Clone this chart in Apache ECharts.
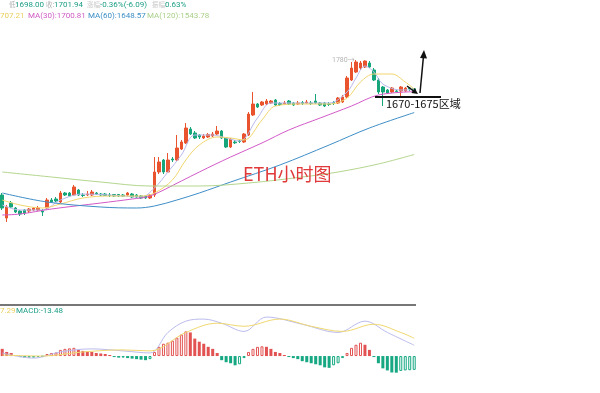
<!DOCTYPE html>
<html><head><meta charset="utf-8">
<script src="https://cdn.jsdelivr.net/npm/echarts@6/dist/echarts.min.js"></script>
<style>html,body{margin:0;padding:0;background:#fff}#c{width:600px;height:393px}</style>
</head><body><div id="c"></div><script>
// ---- candle data (ETH 1h) ----
const opens  = [1442.5,1385,1422.5,1410,1402.5,1405,1402.5,1405,1405,1402.5,
  1410,1430,1432.5,1425,1447.5,1447.5,1442.5,1455,1442.5,1442.5,
  1442.5,1447.5,1445,1445,1442.5,1443.8,1443.8,1442.5,1442.5,1445,
  1442.5,1440,1440,1435,1442.5,1500,1530,1500,1532.5,1530,
  1557.5,1572.5,1607.5,1597.5,1592.5,1585,1587.5,1590,1595,1602.5,
  1585,1562.5,1575,1577.5,1575,1592.5,1642.5,1670,1667.5,1670,
  1672.5,1680,1671.3,1670,1677.5,1672.5,1670,1673.8,1672.5,1672.5,
  1677.5,1672.5,1672.5,1670,1673.8,1672.5,1675,1687.5,1730,1750,
  1760,1762.5,1772.5,1755,1730,1712.5,1705,1700,1702.5,1702.5,
  1702.5,1710,1708];
const closes = [1410,1412.5,1412.5,1400,1395,1397.5,1407.5,1410,1410,1400,
  1430,1425,1427.5,1447.5,1442.5,1440,1462.5,1442.5,1441.3,1445,
  1450,1445,1442.5,1441.3,1441.3,1440,1440,1440,1447.5,1437.5,
  1437.5,1435,1435,1442.5,1500,1525,1500,1530,1530,1560,
  1575,1610,1595,1585,1587.5,1590,1593.8,1595,1602.5,1585,
  1562.5,1582.5,1573,1576.3,1595,1645,1670,1662.5,1675,1677.5,
  1677.5,1667.5,1668.8,1672.5,1670,1667.5,1672.5,1671.3,1675,1671.3,
  1672.5,1667.5,1665,1668.8,1671.3,1685,1687.5,1735,1760,1775,
  1772.5,1777.5,1762.5,1730,1700,1700,1697.5,1710,1701.3,1712.5,
  1710,1708,1701.94];
const lows   = [1405,1375,1410,1397.5,1390,1392.5,1397.5,1402.5,1402.5,1390,
  1407.5,1422.5,1425,1422.5,1440,1437.5,1440,1440,1437.5,1440,
  1440,1442.5,1440,1440,1437.5,1437.5,1437.5,1437.5,1440,1435,
  1435,1432.5,1432.5,1432.5,1437.5,1495,1495,1497.5,1525,1527.5,
  1555,1570,1592.5,1582.5,1582.5,1582.5,1585,1587.5,1592.5,1582.5,
  1560,1560,1570,1572.5,1572.5,1590,1640,1660,1665,1667.5,
  1670,1665,1665,1667.5,1667.5,1665,1667.5,1667.5,1670,1667.5,
  1670,1665,1662.5,1665,1667.5,1670,1672.5,1685,1727.5,1747.5,
  1755,1760,1760,1727.5,1695,1665,1695,1697.5,1700,1687.5,
  1700,1702.5,1698];
const highs  = [1447.5,1417.5,1427.5,1412.5,1405,1407.5,1410,1412.5,1415,1407.5,
  1435,1435,1437.5,1452.5,1450,1450,1467.5,1457.5,1447.5,1452.5,
  1455,1450,1447.5,1447.5,1447.5,1445,1445,1445,1450,1447.5,
  1445,1442.5,1442.5,1445,1537.5,1537.5,1532.5,1547.5,1537.5,1592.5,
  1580,1622.5,1612.5,1602.5,1595,1595,1597.5,1600,1615,1605,
  1587.5,1585,1580,1582.5,1597.5,1650,1700,1672.5,1677.5,1682.5,
  1680,1682.5,1675,1677.5,1680,1675,1677.5,1677.5,1680,1677.5,
  1695,1675,1675,1675,1677.5,1687.5,1692.5,1740,1775,1780,
  1777.5,1778.8,1777.5,1760,1735,1715,1707.5,1712.5,1705,1715,
  1712.5,1712.5,1708.7];

// ---- moving averages (candle index -> value) ----
const ma5Idx   = [0,4,9,13,18,24,31,34,37,40,43,47,50,53,57,60,67,73,77,79,81,83,85,89,92];
const ma5Val   = [1417.5,1405,1405,1430,1445,1442.5,1437.5,1460,1500,1542.5,1592.5,1592.5,1585,1577.5,1635,1672.5,1672.5,1672.5,1700,1735,1765,1750,1720,1705,1706];
const ma10Idx  = [0,4,9,13,18,24,31,34,38,41,44,48,51,54,58,61,67,73,77,80,83,87,90,92];
const ma10Val  = [1430,1417.5,1410,1420,1435,1440,1440,1447.5,1480,1530,1567.5,1587.5,1585,1580,1630,1665,1670,1670,1685,1725,1745,1745,1725,1707.21];
const ma30Idx  = [0,4,11,22,29,33,40,44,51,58,64,71,78,84,92];
const ma30Val  = [1392.5,1395,1407.5,1422.5,1432.5,1440,1477.5,1500,1537.5,1572.5,1605,1635,1665,1692.5,1700.81];
const ma60Idx  = [0,10,22,30,34,39,44,51,62,73,82,92];
const ma60Val  = [1447.5,1425,1412.5,1410,1415,1430,1447.5,1475,1517.5,1567.5,1610,1648.57];
const ma120Idx = [0,11,22,33,44,55,67,75,84,92];
const ma120Val = [1500,1487.5,1475,1465,1465,1472.5,1487.5,1500,1520,1543.78];

// ---- MACD ----
const macdHist = [7,4,3,1,-1,-1.5,-1.5,-1.5,-1,-0.5,
  2,3,3.5,6,7,7.5,8,6,5,4.5,
  4,3,2.5,2,1,-1,-1.5,-1.5,-2,-2.5,
  -3,-3.5,-4,-3,4,9,12,13,15,18,
  21,24,23,17,14,12,9,7,3,-4,
  -6,-7,-9,-8,-2,4,7,9,9.5,9,
  7,4,3,1,-1,-2,-3,-5,-6,-7,
  -8,-9,-11,-11.5,-9,-7,-2,3,8,11,
  13,11,6,-1,-7,-12,-14,-16,-16.2,-14.5,
  -14,-13.8,-13.48];
const difIdx = [0,7,13,20,27,33,37,41,45,49,54,59,67,75,81,86,92];
const difVal = [3,-2,4,7,5,3,23,34,36,32,24,38,31,23,34,23,10.55];
const deaIdx = [0,9,18,27,33,41,48,54,62,69,76,83,89,92];
const deaVal = [1,0,4,6,5,23,32,29,36,29,24,31,23,17.29];

const N = opens.length;
const cats = Array.from({length:N},(_,i)=>String(i));
const kData = opens.map((o,i)=>[o, closes[i], lows[i], highs[i]]);
function sparse(idx, val){ const a = new Array(N).fill(null); idx.forEach((k,j)=>{a[k]=val[j];}); return a; }

const UP='#e9542f', DOWN='#17a67b', BUP='#e25252', BDOWN='#16a882';
const histData = macdHist.map((v,i)=>{
  const prev = i>0 ? macdHist[i-1] : null;
  let hollow;
  if (v>=0) hollow = prev!==null && v>=prev; else hollow = prev!==null && v>=prev;
  const col = v>=0 ? BUP : BDOWN;
  return {value:v, itemStyle: hollow ? {color:'#ffffff', borderColor:col, borderWidth:1} : {color:col, borderColor:col, borderWidth:0}};
});

function maLine(name, idx, val, color){
  return {name, type:'line', xAxisIndex:0, yAxisIndex:0, data:sparse(idx,val), connectNulls:true, smooth:0.35,
    symbol:'none', lineStyle:{width:1, color}, z:3, silent:true};
}
function macdLine(name, idx, val, color){
  return {name, type:'line', xAxisIndex:1, yAxisIndex:1, data:sparse(idx,val), connectNulls:true, smooth:0.35,
    symbol:'none', lineStyle:{width:1, color}, z:3, silent:true};
}

const LAT='Roboto, "Noto Sans CJK SC", sans-serif', CJK='"Noto Sans CJK SC", sans-serif';
function t(text, x, y, fill, size, family, extra){
  return Object.assign({type:'text', x, y, silent:true, z:100,
    style:{text, fill, fontSize:size, fontFamily:family||LAT, align:'left', verticalAlign:'middle'}}, extra||{});
}

const chart = echarts.init(document.getElementById('c'), null, {renderer:'canvas'});
chart.setOption({
  animation:false,
  backgroundColor:'#ffffff',
  grid:[
    {left:-2.05, width:418.5, top:30, height:260},
    {left:-2.05, width:418.5, top:315, height:78}
  ],
  xAxis:[
    {type:'category', data:cats, gridIndex:0, show:false, boundaryGap:true},
    {type:'category', data:cats, gridIndex:1, show:false, boundaryGap:true}
  ],
  yAxis:[
    {type:'value', gridIndex:0, min:1205, max:1855, show:false, splitLine:{show:false}},
    {type:'value', gridIndex:1, min:-36, max:40, show:false, splitLine:{show:false}}
  ],
  series:[
    {type:'candlestick', xAxisIndex:0, yAxisIndex:0, data:kData, barWidth:3,
      itemStyle:{color:UP, color0:DOWN, borderColor:UP, borderColor0:DOWN, borderWidth:1}, z:2, silent:true},
    maLine('MA5', ma5Idx, ma5Val, '#b9b9ec'),
    maLine('MA10', ma10Idx, ma10Val, '#f1d66e'),
    maLine('MA30', ma30Idx, ma30Val, '#d35ac8'),
    maLine('MA60', ma60Idx, ma60Val, '#3f8ec7'),
    maLine('MA120', ma120Idx, ma120Val, '#b4d68e'),
    {type:'bar', xAxisIndex:1, yAxisIndex:1, data:histData, barWidth:3, silent:true, z:2},
    macdLine('DIF', difIdx, difVal, '#bcbcee'),
    macdLine('DEA', deaIdx, deaVal, '#f0d870')
  ],
  graphic:[
    // header line 1
    t('低:', 9, 5, '#b0b0b0', 6.5, CJK),
    t('1698.00', 15, 5, '#1b9e86', 8),
    t('收:', 46, 5, '#b0b0b0', 6.5, CJK),
    t('1701.94', 54, 5, '#1b9e86', 8),
    t('涨幅:', 87, 5, '#c8c8c8', 6.5, CJK),
    t('-0.36%(-6.09)', 100, 5, '#1b9e86', 8),
    t('振幅:', 152, 5, '#c8c8c8', 6.5, CJK),
    t('0.63%', 165, 5, '#1b9e86', 8),
    // header line 2
    t('707.21', 0, 16, '#e9cf5c', 8),
    t('MA(30):1700.81', 28, 16, '#cf5cc3', 8),
    t('MA(60):1648.57', 88, 16, '#3d8fc4', 8),
    t('MA(120):1543.78', 147, 16, '#aad08a', 8),
    // separator
    {type:'line', silent:true, z:100, shape:{x1:0, y1:305, x2:416, y2:305}, style:{stroke:'#4a4a4a', lineWidth:1.5}},
    // MACD label
    t('7.29', 0, 311, '#e9cf5c', 8),
    t('MACD:-13.48', 16, 311, '#1b9e86', 8),
    // high label
    t('1780→', 332, 60, '#b4b4b4', 7),
    // title text
    t('ETH小时图', 243, 174, '#e0393a', 18, CJK),
    // zone annotation
    {type:'line', silent:true, z:100, shape:{x1:375, y1:97, x2:441, y2:97}, style:{stroke:'#111111', lineWidth:2}},
    t('1670-1675区域', 386, 104, '#111111', 11, CJK),
    // arrows
    {type:'line', silent:true, z:100, shape:{x1:407, y1:86, x2:415, y2:92}, style:{stroke:'#111111', lineWidth:1.5}},
    {type:'polygon', silent:true, z:100, shape:{points:[[418,94],[411.4,93.1],[414.8,88.1]]}, style:{fill:'#111111'}},
    {type:'line', silent:true, z:100, shape:{x1:420, y1:93, x2:423.4, y2:57}, style:{stroke:'#111111', lineWidth:1.5}},
    {type:'polygon', silent:true, z:100, shape:{points:[[424,50],[427,58.5],[420,58]]}, style:{fill:'#111111'}}
  ]
});
</script></body></html>
